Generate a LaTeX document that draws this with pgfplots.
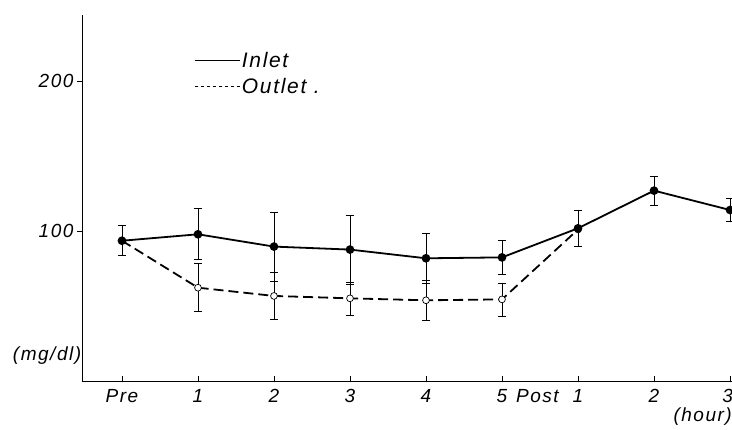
\documentclass[border=0pt]{standalone}
\usepackage{fontspec}
\setmainfont{Liberation Sans}
\newfontfamily\lett[LetterSpace=8]{Liberation Sans}
\usepackage{pgfplots}
\pgfplotsset{compat=1.18}
\pgfplotstableread{
x y e
0 93.5 10
1 97.8 17
2 89.6 23
3 87.6 23
4 81.8 16.5
5 82.4 11.5
6 101.8 12
7 126.9 9.8
8 114 7.5
}\inlet
\pgfplotstableread{
x y e
0 93.5 0
1 62.2 16
2 56.7 15.5
3 55.1 11
4 53.8 13.5
5 54.4 11
6 101 0
}\outlet
\begin{document}
\begin{tikzpicture}[x=1pt,y=1pt]
\path[use as bounding box] (-82,-49) rectangle (650,381);
\begin{axis}[
 at={(0,0)}, anchor=south west, scale only axis,
 width=650pt, height=366pt,
 xmin=-0.526, xmax=8.026, ymin=0, ymax=244,
 axis x line=bottom, axis y line=left,
 axis line style={-, line width=0.8pt},
 xtick={0,...,8},
 xticklabels={Pre,1,2,3,4,5,{\llap{Post\hspace{14pt}}1},2,{\llap{3\hspace{-3pt}}}},
 ytick={100,200},
 xtick align=inside, ytick align=outside,
 major tick length=5pt,
 tick style={black, line width=0.6pt},
 ticklabel style={font=\fontsize{19}{21}\selectfont\lett\itshape},
 xticklabel style={yshift=-5pt},
 /pgf/number format/assume math mode=true,
 clip=false,
 legend style={draw=none, fill=none, at={(axis cs:0.91,222)}, anchor=north west,
   font=\fontsize{21}{23}\selectfont\lett\itshape, row sep=5pt,
   /tikz/every even column/.append style={column sep=5pt}},
 legend cell align=left,
 legend image code/.code={\draw[#1] (0pt,0pt) -- (45pt,0pt);},
]
\addplot[black, line width=1.8pt, dash pattern=on 10pt off 5pt, mark=*, mark size=3.4pt,
  mark options={solid, fill=white, line width=0.7pt},
  error bars/.cd, y dir=both, y explicit,
  error bar style={line width=0.6pt, solid},
  error mark options={rotate=90, mark size=4pt, line width=0.6pt}]
  table[x=x, y=y, y error=e] {\outlet};
\addplot[black, line width=1.8pt, mark=*, mark size=3.4pt, mark options={solid},
  error bars/.cd, y dir=both, y explicit,
  error bar style={line width=0.6pt, solid},
  error mark options={rotate=90, mark size=4pt, line width=0.6pt}]
  table[x=x, y=y, y error=e] {\inlet};
\addlegendimage{black, line width=0.6pt}
\addlegendimage{black, line width=0.6pt, dash pattern=on 3.5pt off 2.5pt}
\legend{,,Inlet,Outlet .}
\node[font=\fontsize{19}{21}\selectfont\lett\itshape, anchor=east] at (axis cs:-0.49,17) {(mg/dl)};
\node[font=\fontsize{19}{21}\selectfont\lett\itshape] at (axis cs:7.64,-24) {(hour)};
\end{axis}
\end{tikzpicture}
\end{document}
